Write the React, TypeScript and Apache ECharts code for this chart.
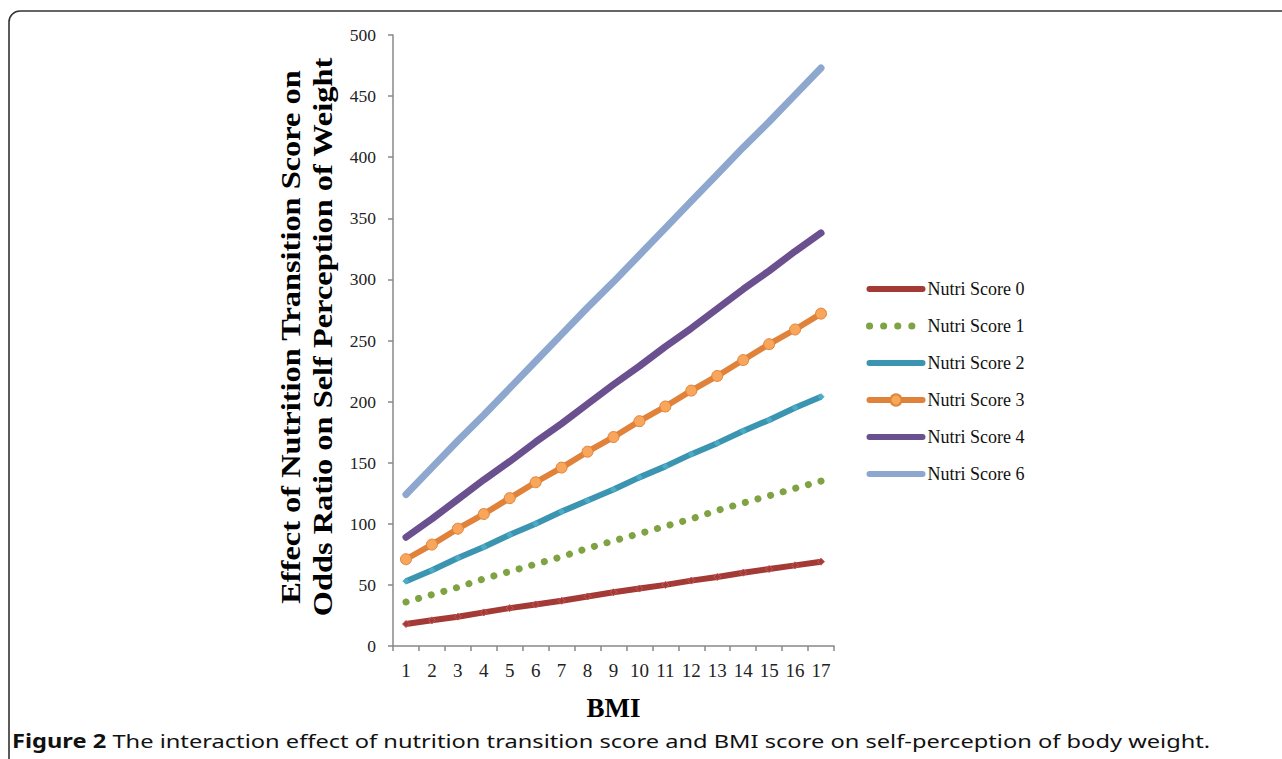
import React, { useEffect, useRef } from "react";
import * as echarts from "echarts";

const bmi = ["1", "2", "3", "4", "5", "6", "7", "8", "9", "10", "11", "12", "13", "14", "15", "16", "17"];
const nutri0 = [18, 21, 24, 27.5, 31, 34, 37, 40.5, 44, 47, 50, 53.5, 56.5, 60, 63, 66, 69];
const nutri1 = [36, 42, 48, 55, 61, 67, 73, 80, 86, 92, 98, 104, 111, 117, 123, 129, 135];
const nutri2 = [53, 62, 72, 81, 91, 100, 110, 119, 128, 138, 147, 157, 166, 176, 185, 195, 204];
const nutri3 = [71, 83, 96, 108, 121, 134, 146, 159, 171, 184, 196, 209, 221, 234, 247, 259, 272];
const nutri4 = [89, 104, 120, 136, 151, 167, 182, 198, 214, 229, 245, 260, 276, 292, 307, 323, 338];
const nutri6 = [124, 146, 168, 189, 211, 233, 255, 277, 298, 320, 342, 364, 386, 408, 429, 451, 473];

const seriesNames = ["Nutri Score 0", "Nutri Score 1", "Nutri Score 2", "Nutri Score 3", "Nutri Score 4", "Nutri Score 6"];
const yTitle = "Effect of Nutrition Transition Score on\nOdds Ratio on Self Perception of Weight";
const xTitle = "BMI";
const captionBold = "Figure 2";
const captionRest = " The interaction effect of nutrition transition score and BMI score on self-perception of body weight.";

const SERIF = "'Liberation Serif', 'DejaVu Serif', serif";
const SANS = "'Noto Sans', 'Open Sans', sans-serif";

export default function App() {
  const ref = useRef<HTMLDivElement>(null);
  useEffect(() => {
    if (!ref.current) return;
    const chart = echarts.init(ref.current, undefined, { renderer: "svg" });
    const hidden = { opacity: 0 };
    const option: any = {
      animation: false,
      backgroundColor: "#ffffff",
      grid: { left: 393, right: 448, top: 35, bottom: 113, containLabel: false },
      legend: {
        orient: "vertical",
        left: 866,
        top: 280,
        padding: 0,
        itemWidth: 53,
        itemHeight: 14,
        itemGap: 19,
        lineStyle: { width: "inherit", cap: "round" },
        textStyle: { fontFamily: SERIF, fontSize: 18, color: "#111" },
        data: [
          { name: seriesNames[0], itemStyle: hidden, lineStyle: { width: 6, cap: "round" } },
          { name: seriesNames[1], itemStyle: hidden, lineStyle: { width: 7, cap: "round", type: [0.1, 14] } },
          { name: seriesNames[2], itemStyle: hidden, lineStyle: { width: 6, cap: "round" } },
          { name: seriesNames[3], lineStyle: { width: 6, cap: "round" } },
          { name: seriesNames[4], itemStyle: hidden, lineStyle: { width: 6, cap: "round" } },
          { name: seriesNames[5], itemStyle: hidden, lineStyle: { width: 6, cap: "round" } },
        ],
      },
      xAxis: {
        type: "category",
        data: bmi,
        boundaryGap: true,
        name: xTitle,
        nameLocation: "middle",
        nameGap: 48,
        nameTextStyle: { fontFamily: SERIF, fontSize: 27, fontWeight: "bold", color: "#000" },
        axisLine: { show: true, lineStyle: { color: "#888", width: 1.5 } },
        axisTick: { show: true, interval: 0, length: 5, lineStyle: { color: "#888", width: 1.5 } },
        axisLabel: { interval: 0, margin: 15, fontFamily: SERIF, fontSize: 19, color: "#222" },
        splitLine: { show: false },
      },
      yAxis: {
        type: "value",
        min: 0,
        max: 500,
        interval: 50,
        axisLine: { show: true, lineStyle: { color: "#888", width: 1.5 } },
        axisTick: { show: true, length: 5, lineStyle: { color: "#888", width: 1.5 } },
        axisLabel: { margin: 17, fontFamily: SERIF, fontSize: 17.5, color: "#222" },
        splitLine: { show: false },
      },
      graphic: [
        {
          type: "rect",
          silent: true,
          shape: { x: 9, y: 11, width: 1320, height: 820, r: 11 },
          style: { fill: "none", stroke: "#333", lineWidth: 1.6 },
        },
        {
          type: "text",
          x: 306,
          y: 337,
          rotation: Math.PI / 2,
          scaleX: 1.2,
          style: {
            text: yTitle,
            fontFamily: SERIF,
            fontSize: 27,
            fontWeight: "bold",
            lineHeight: 32,
            fill: "#000",
            textAlign: "center",
            textVerticalAlign: "middle",
          },
        },
        {
          type: "text",
          x: 12,
          y: 740,
          scaleX: 1.245,
          style: {
            text: "{b|" + captionBold + "}{r|" + captionRest + "}",
            textVerticalAlign: "middle",
            rich: {
              b: { fontFamily: SANS, fontSize: 19, fontWeight: "bold", fill: "#111" },
              r: { fontFamily: SANS, fontSize: 19, fontWeight: "normal", fill: "#111" },
            },
          },
        },
      ],
      series: [
        {
          name: seriesNames[0],
          type: "line",
          data: nutri0,
          symbol: "diamond",
          symbolSize: 7,
          itemStyle: { color: "#A33A36", borderColor: "#C55A56", borderWidth: 1 },
          lineStyle: { color: "#A33A36", width: 6 },
          z: 6,
        },
        {
          name: seriesNames[1],
          type: "line",
          data: nutri1,
          symbol: "none",
          itemStyle: { color: "#7FA343" },
          lineStyle: { color: "#7FA343", width: 7, type: [0.1, 13], cap: "round" },
          z: 5,
        },
        {
          name: seriesNames[2],
          type: "line",
          data: nutri2,
          symbol: "diamond",
          symbolSize: 6,
          itemStyle: { color: "#4BACC6", borderColor: "#4BACC6" },
          lineStyle: { color: "#3B94B0", width: 6 },
          z: 4,
        },
        {
          name: seriesNames[3],
          type: "line",
          data: nutri3,
          symbol: "circle",
          symbolSize: 11,
          itemStyle: { color: "#F8A65C", borderColor: "#E0843C", borderWidth: 1 },
          lineStyle: { color: "#E0823A", width: 6 },
          z: 3,
        },
        {
          name: seriesNames[4],
          type: "line",
          data: nutri4,
          symbol: "none",
          itemStyle: { color: "#6B5090" },
          lineStyle: { color: "#6B5090", width: 7, cap: "round" },
          z: 2,
        },
        {
          name: seriesNames[5],
          type: "line",
          data: nutri6,
          symbol: "none",
          itemStyle: { color: "#8EA7CE" },
          lineStyle: { color: "#8EA7CE", width: 7, cap: "round" },
          z: 1,
        },
      ],
    };
    chart.setOption(option);
    return () => chart.dispose();
  }, []);
  return (
    <div
      ref={ref}
      style={{ position: "fixed", left: 0, top: 0, width: 1282, height: 759, background: "#fff" }}
    />
  );
}
